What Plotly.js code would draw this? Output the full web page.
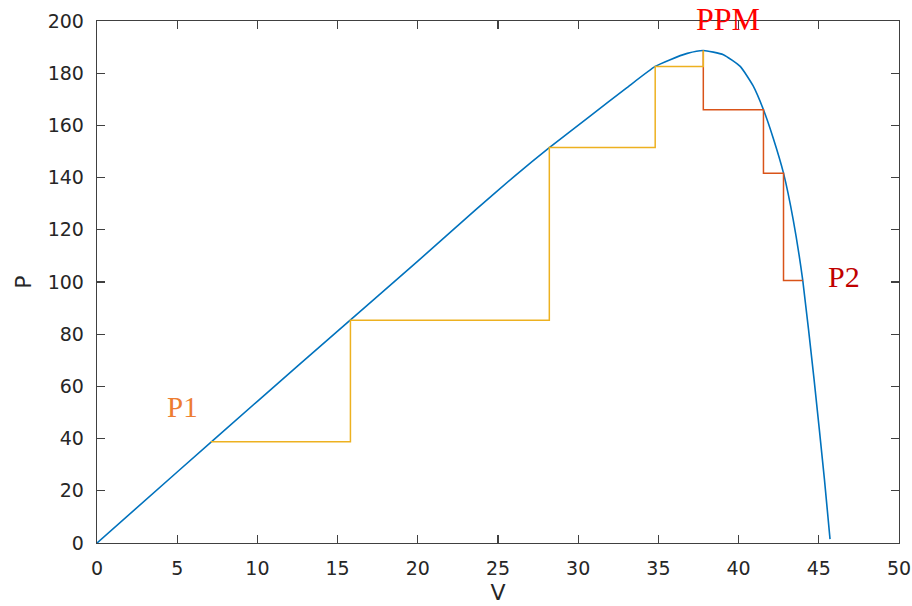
<!DOCTYPE html>
<html>
<head>
<meta charset="utf-8">
<script src="https://cdn.plot.ly/plotly-3.0.1.min.js"></script>
<style>html,body{margin:0;padding:0;background:#fff;}#chart{width:912px;height:606px;}</style>
</head>
<body>
<div id="chart"></div>
<script>
// P-V curve
var curveV = [0, 5, 10, 15, 20, 23.6, 26, 28.2, 30.7, 33, 34.8, 35.7, 36.8, 37.8, 39.05, 40.1, 40.9, 41.55, 42.15, 42.8, 43.4, 44.0, 44.7, 45.35, 45.7];
var curveP = [0, 27.2, 54.3, 81.2, 108, 127.6, 140.4, 151.5, 163.4, 174.3, 182.6, 185.1, 187.6, 188.7, 187.1, 182.6, 175.2, 166, 155.3, 141.7, 124, 100.6, 63, 24.5, 1.5];

// Tracking steps from P1 up to the MPP (yellow)
var upV = [7.1, 15.8, 28.2, 34.8, 37.8];
var upP = [38.8, 85.3, 151.5, 182.6, 188.7];

// Tracking steps from the MPP down to P2 (orange)
var downV = [37.8, 41.55, 42.8, 44.0];
var downP = [188.7, 166, 141.7, 100.6];

var xTicks = [0, 5, 10, 15, 20, 25, 30, 35, 40, 45, 50];
var yTicks = [0, 20, 40, 60, 80, 100, 120, 140, 160, 180, 200];

var labelText = ['P1', 'PPM', 'P2'];

var traces = [
  {x: curveV, y: curveP, type: 'scatter', mode: 'lines', line: {color: '#0072BD', width: 1.6, shape: 'spline', smoothing: 0.5}, hoverinfo: 'skip'},
  {x: downV, y: downP, type: 'scatter', mode: 'lines', line: {color: '#D95319', width: 1.5, shape: 'vh'}, hoverinfo: 'skip'},
  {x: upV, y: upP, type: 'scatter', mode: 'lines', line: {color: '#EDB120', width: 1.5, shape: 'hv'}, hoverinfo: 'skip'}
];

var axisCommon = {
  showgrid: false, zeroline: false, showline: true, mirror: 'ticks',
  linecolor: '#404040', linewidth: 1.3, ticks: 'inside', ticklen: 8, tickwidth: 1.3, tickcolor: '#404040',
  tickfont: {family: 'DejaVu Sans, Arial, sans-serif', size: 19, color: '#262626'}
};

var layout = {
  width: 912, height: 606,
  margin: {l: 97, r: 13, t: 21, b: 63},
  paper_bgcolor: '#ffffff', plot_bgcolor: '#ffffff',
  showlegend: false,
  xaxis: Object.assign({}, axisCommon, {
    range: [0, 50], tickvals: xTicks, ticktext: xTicks.map(String), ticklabelstandoff: 8,
    title: {text: 'V', font: {family: 'DejaVu Sans, Arial, sans-serif', size: 22, color: '#262626'}, standoff: 6}
  }),
  yaxis: Object.assign({}, axisCommon, {
    range: [0, 200], tickvals: yTicks, ticktext: yTicks.map(String), ticklabelstandoff: 8,
    title: {text: 'P', font: {family: 'DejaVu Sans, Arial, sans-serif', size: 22, color: '#262626'}, standoff: 10}
  }),
  annotations: [
    {x: upV[0], y: upP[0], xref: 'x', yref: 'y', text: labelText[0], showarrow: false, xshift: -28, yshift: 35,
     font: {family: 'Liberation Serif, Times New Roman, serif', size: 29, color: '#ED7D31'}},
    {x: upV[upV.length - 1], y: upP[upP.length - 1], xref: 'x', yref: 'y', text: labelText[1], showarrow: false, xshift: 25, yshift: 31,
     font: {family: 'Liberation Serif, Times New Roman, serif', size: 32, color: '#FF0000'}},
    {x: downV[downV.length - 1], y: downP[downP.length - 1], xref: 'x', yref: 'y', text: labelText[2], showarrow: false, xshift: 41, yshift: 4,
     font: {family: 'Liberation Serif, Times New Roman, serif', size: 30, color: '#C00000'}}
  ]
};

Plotly.newPlot('chart', traces, layout, {staticPlot: true, displayModeBar: false});
</script>
</body>
</html>
